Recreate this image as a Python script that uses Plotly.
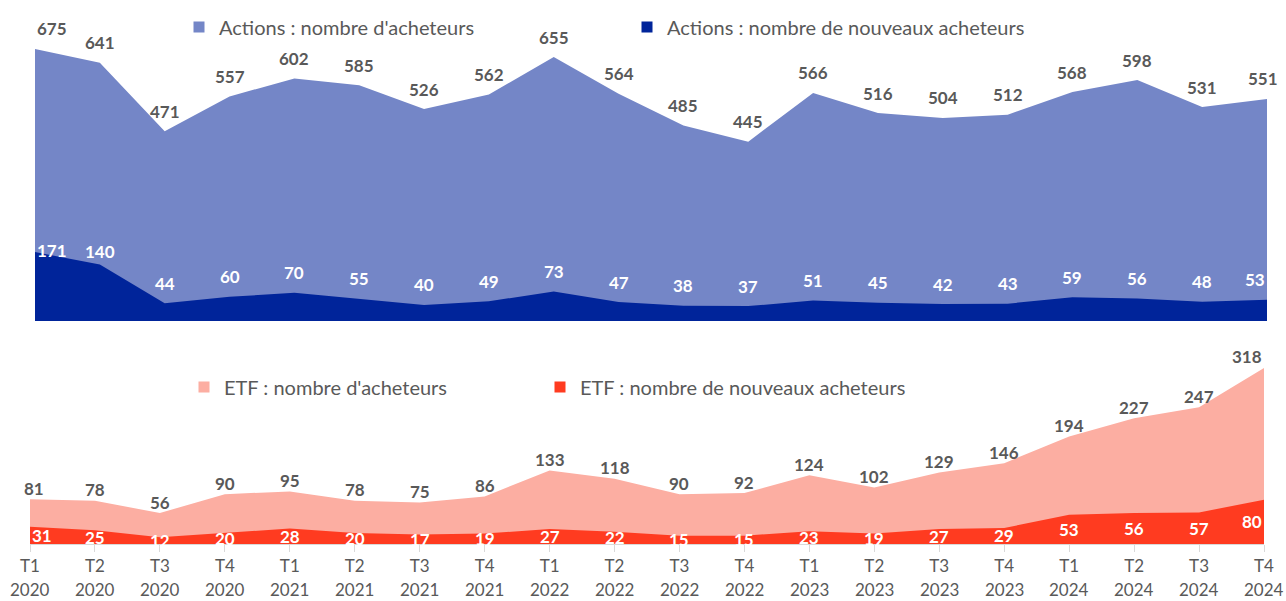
import plotly.graph_objects as go

quarters = ["T1", "T2", "T3", "T4"] * 5
years = ["2020"] * 4 + ["2021"] * 4 + ["2022"] * 4 + ["2023"] * 4 + ["2024"] * 4
actions_total = [675, 641, 471, 557, 602, 585, 526, 562, 655, 564, 485, 445, 566, 516, 504, 512, 568, 598, 531, 551]
actions_new = [171, 140, 44, 60, 70, 55, 40, 49, 73, 47, 38, 37, 51, 45, 42, 43, 59, 56, 48, 53]
etf_total = [81, 78, 56, 90, 95, 78, 75, 86, 133, 118, 90, 92, 124, 102, 129, 146, 194, 227, 247, 318]
etf_new = [31, 25, 12, 20, 28, 20, 17, 19, 27, 22, 15, 15, 23, 19, 27, 29, 53, 56, 57, 80]

names = ["Actions : nombre d'acheteurs", "Actions : nombre de nouveaux acheteurs",
         "ETF : nombre d'acheteurs", "ETF : nombre de nouveaux acheteurs"]
colors = ["#7486C7", "#00249A", "#FCAEA2", "#FF3B20"]

W, H = 1286, 601
FONT = "Lato"
GREY = "#595959"
idx = list(range(len(quarters)))
n = len(idx)

fig = go.Figure()
series = [(actions_total, "x", "y"), (actions_new, "x", "y"), (etf_total, "x2", "y2"), (etf_new, "x2", "y2")]
for (vals, xa, ya), c in zip(series, colors):
    fig.add_trace(go.Scatter(x=idx, y=vals, xaxis=xa, yaxis=ya, mode="lines", fill="tozeroy",
                             line=dict(width=0, color=c), fillcolor=c, showlegend=False, hoverinfo="skip"))

legend_ids = ["legend", "legend2", "legend3", "legend4"]
for nm, c, lg in zip(names, colors, legend_ids):
    fig.add_trace(go.Scatter(x=[None], y=[None], mode="markers", name=nm,
                             marker=dict(symbol="square", size=11, color=c), legend=lg))


def bold(col):
    return dict(family=FONT, size=17, color=col, weight="bold")


def anchor(i, first, last):
    if i == 0:
        return first
    if i == n - 1:
        return last
    return "center"


new_action_shift = [2, 13] + [20] * (n - 2)

ann = []
for i in idx:
    ann.append(dict(x=i, y=actions_total[i], xref="x", yref="y", text=str(actions_total[i]),
                    showarrow=False, yshift=20, xanchor=anchor(i, "left", "center"),
                    xshift=-4 if i == n - 1 else 0, font=bold(GREY)))
    ann.append(dict(x=i, y=actions_new[i], xref="x", yref="y", text=str(actions_new[i]),
                    showarrow=False, yshift=new_action_shift[i], xanchor=anchor(i, "left", "right"),
                    font=bold("white")))
    ann.append(dict(x=i, y=etf_total[i], xref="x2", yref="y2", text=str(etf_total[i]),
                    showarrow=False, yshift=11, xanchor=anchor(i, "center", "right"),
                    xshift=4 if i == 0 else 0, font=bold(GREY)))
    ann.append(dict(x=i, y=etf_new[i] / 2, xref="x2", yref="y2", text=str(etf_new[i]),
                    showarrow=False, xanchor=anchor(i, "left", "right"), font=bold("white")))
    ann.append(dict(x=i, y=1 - 589 / H, xref="x2", yref="paper", text=years[i], showarrow=False,
                    yanchor="middle", font=dict(family=FONT, size=17, color=GREY)))


def leg(xpx, ypx):
    return dict(orientation="h", x=xpx / W, xanchor="left", y=1 - ypx / H, yanchor="middle",
                bgcolor="rgba(0,0,0,0)", font=dict(family=FONT, size=20, color=GREY))


fig.update_layout(
    width=W, height=H, margin=dict(l=0, r=0, t=0, b=0, autoexpand=False),
    paper_bgcolor="white", plot_bgcolor="rgba(0,0,0,0)",
    font=dict(family=FONT, color=GREY),
    annotations=ann,
    xaxis=dict(domain=[35 / W, 1267 / W], range=[0, 19], anchor="y", showticklabels=False,
               showgrid=False, zeroline=False, showline=False, ticks="", automargin=False),
    yaxis=dict(domain=[1 - 321 / H, 1 - 38.9 / H], range=[0, 700], visible=False, automargin=False),
    xaxis2=dict(domain=[30 / W, 1264 / W], range=[0, 19], anchor="y2", tickmode="array",
                tickvals=idx, ticktext=quarters, ticks="outside", ticklen=7, tickcolor="#D9D9D9",
                showline=True, linecolor="#D9D9D9", linewidth=1, showgrid=False, zeroline=False,
                automargin=False, tickfont=dict(family=FONT, size=17, color=GREY)),
    yaxis2=dict(domain=[1 - 544 / H, 1 - 355.8 / H], range=[0, 340], visible=False, automargin=False),
    legend=leg(179, 27),
    legend2=leg(627, 27),
    legend3=leg(184, 387),
    legend4=leg(540, 387),
)

fig.write_html("out.html", config={"displayModeBar": False},
               post_script="document.body.style.margin='0';document.body.style.overflow='hidden';")
